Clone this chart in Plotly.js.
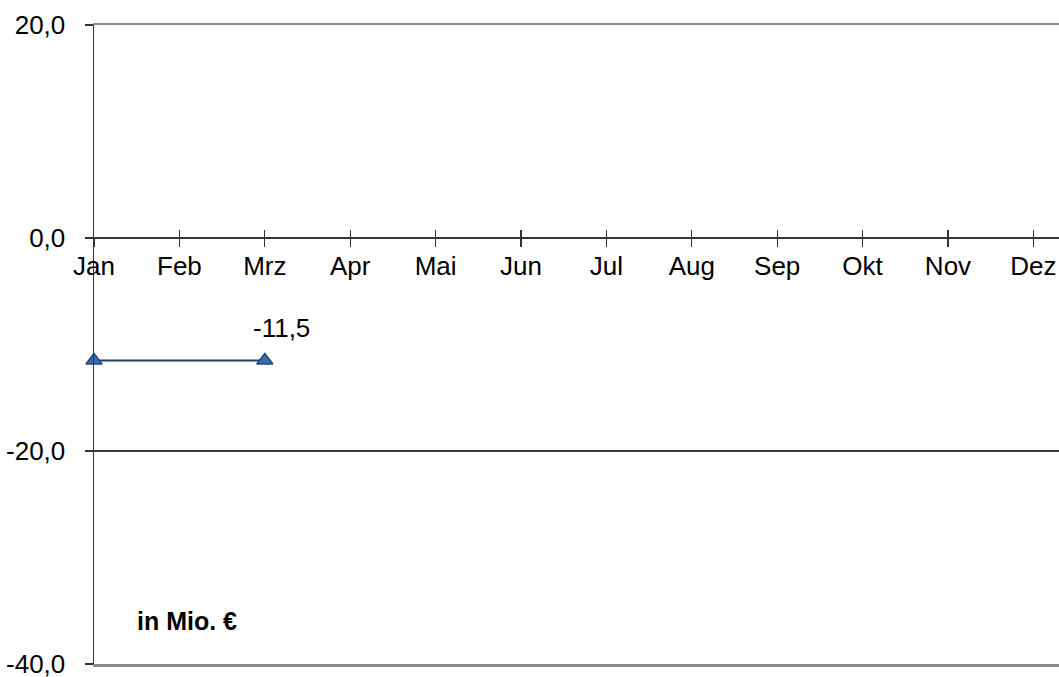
<!DOCTYPE html>
<html><head><meta charset="utf-8">
<script src="https://cdn.plot.ly/plotly-3.0.1.min.js"></script>
<style>html,body{margin:0;padding:0;background:#fff}#chart{width:1059px;height:677px}</style>
</head><body><div id="chart"></div>
<script>
const months = ["Jan","Feb","Mrz","Apr","Mai","Jun","Jul","Aug","Sep","Okt","Nov","Dez"];
const values = [-11.5, null, -11.5, null, null, null, null, null, null, null, null, null];
const yTicks = [20, 0, -20, -40];
const unitLabel = "in Mio. €";

const lastIdx = values.reduce((a, v, i) => v !== null ? i : a, -1);
const fmt = v => v.toFixed(1).replace('.', ',');

const FAM = "Liberation Sans, Arial, sans-serif";
const font = {family: FAM, size: 26, color: "#000"};
const axisBase = {type: "category", categoryorder: "array", categoryarray: months, range: [0, 11.3], fixedrange: true};

const data = [
  {x: months, y: values, xaxis: "x2", yaxis: "y", type: "scatter", mode: "none", hoverinfo: "skip", showlegend: false},
  {x: months, y: values, xaxis: "x3", yaxis: "y", type: "scatter", mode: "none", hoverinfo: "skip", showlegend: false},
  {
    x: months, y: values, type: "scatter", mode: "lines+markers", connectgaps: true, cliponaxis: false,
    line: {color: "#1f3d6e", width: 2},
    marker: {symbol: "triangle-up", size: 14, color: "#3a6cb0", line: {color: "#1f497d", width: 1.5}},
    hoverinfo: "skip", showlegend: false
  }
];

const layout = {
  width: 1059, height: 677,
  margin: {l: 94, r: 0, t: 25, b: 13, pad: 0},
  paper_bgcolor: "#fff", plot_bgcolor: "#fff",
  separators: ",.",
  font: font,
  showlegend: false,
  xaxis: Object.assign({}, axisBase, {
    anchor: "free", position: 40/60,
    showline: true, linecolor: "#333", linewidth: 1.3,
    ticks: "outside", ticklen: 8, tickcolor: "#333", tickwidth: 1.3,
    showgrid: false, zeroline: false, tickfont: font, ticklabelstandoff: -4,
    ticklabeloverflow: "allow"
  }),
  xaxis2: Object.assign({}, axisBase, {
    overlaying: "x", anchor: "free", position: 40/60,
    showline: false, ticks: "inside", ticklen: 8, tickcolor: "#333", tickwidth: 1.3,
    showticklabels: false, showgrid: false, zeroline: false
  }),
  xaxis3: Object.assign({}, axisBase, {
    overlaying: "x", anchor: "y", side: "bottom",
    showline: true, mirror: true, linecolor: "#8c8c8c", linewidth: 2.5,
    ticks: "", showticklabels: false, showgrid: false, zeroline: false
  }),
  yaxis: {
    range: [-40, 20], tickvals: yTicks, ticktext: yTicks.map(fmt), fixedrange: true,
    showline: true, linecolor: "#333", linewidth: 1.5,
    ticks: "outside", ticklen: 8, tickcolor: "#333", tickwidth: 1.3,
    showgrid: true, gridcolor: "#3a3a3a", gridwidth: 1.3,
    zeroline: false, tickfont: font, ticklabelstandoff: 14,
    ticklabeloverflow: "allow"
  },
  annotations: [
    {x: months[lastIdx], y: values[lastIdx], xref: "x", yref: "y",
     text: fmt(values[lastIdx]), showarrow: false, xshift: 17, yshift: 32, font: font},
    {x: 0.042, y: 0.067, xref: "paper", yref: "paper", xanchor: "left", yanchor: "middle",
     text: "<b>" + unitLabel + "</b>", showarrow: false,
     font: {family: FAM, size: 25, color: "#000"}}
  ]
};

Plotly.newPlot("chart", data, layout, {displayModeBar: false, staticPlot: true});
</script>
</body></html>
